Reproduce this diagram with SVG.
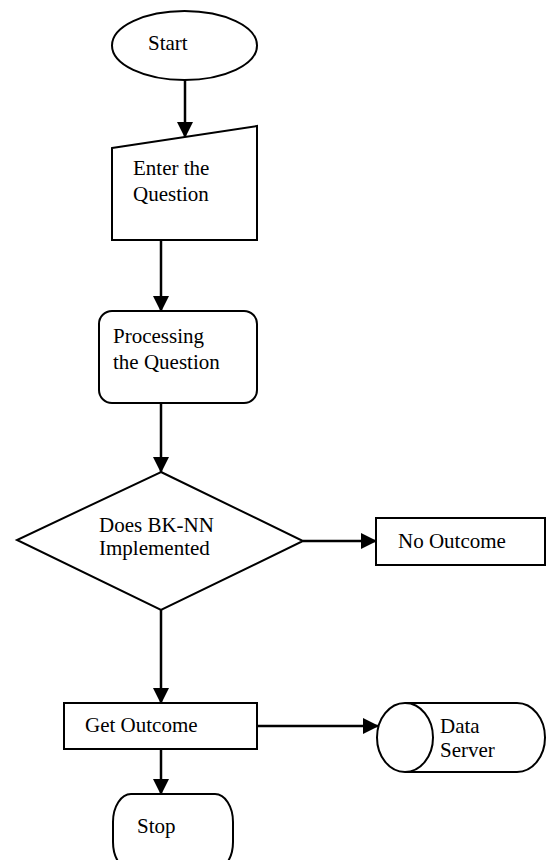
<svg xmlns="http://www.w3.org/2000/svg" width="547" height="860" viewBox="0 0 547 860">
<defs>
<style>
.s{fill:#fff;stroke:#000;stroke-width:2}
.t{font-family:"Liberation Serif","Times New Roman",serif;font-size:21px;fill:#000}
.c{fill:none;stroke:#000;stroke-width:2.5}
</style>
<marker id="ah" markerWidth="16" markerHeight="16" viewBox="0 0 16 16" refX="15" refY="8" orient="auto" markerUnits="userSpaceOnUse">
<path d="M0,0 L16,8 L0,16 Z" fill="#000"/>
</marker>
</defs>
<rect width="547" height="860" fill="#fff"/>
<g id="connectors">
<line class="c" x1="185" y1="80" x2="185" y2="137" marker-end="url(#ah)"/>
<line class="c" x1="161" y1="240" x2="161" y2="311" marker-end="url(#ah)"/>
<line class="c" x1="161" y1="403" x2="161" y2="472" marker-end="url(#ah)"/>
<line class="c" x1="303" y1="541" x2="376" y2="541" marker-end="url(#ah)"/>
<line class="c" x1="161" y1="610" x2="161" y2="703" marker-end="url(#ah)"/>
<line class="c" x1="257" y1="726" x2="378" y2="726" marker-end="url(#ah)"/>
<line class="c" x1="161" y1="749" x2="161" y2="794" marker-end="url(#ah)"/>
</g>
<g id="start">
<ellipse class="s" cx="184.5" cy="45.5" rx="72.5" ry="34.5"/>
<text class="t" x="148" y="50">Start</text>
</g>
<g id="enter">
<path class="s" d="M112,148 L257,126 L257,240 L112,240 Z"/>
<text class="t" x="133" y="175">Enter the</text>
<text class="t" x="133" y="201">Question</text>
</g>
<g id="processing">
<rect class="s" x="99" y="311" width="158" height="92" rx="13" ry="13"/>
<text class="t" x="113" y="343">Processing</text>
<text class="t" x="113" y="369">the Question</text>
</g>
<g id="decision">
<path class="s" d="M161,472 L303,541 L161,610 L17,540 Z"/>
<text class="t" x="99" y="532">Does BK-NN</text>
<text class="t" x="99" y="555">Implemented</text>
</g>
<g id="no-outcome">
<rect class="s" x="376" y="518" width="169" height="47"/>
<text class="t" x="398" y="548">No Outcome</text>
</g>
<g id="get-outcome">
<rect class="s" x="64" y="703" width="193" height="46"/>
<text class="t" x="85" y="732">Get Outcome</text>
</g>
<g id="data-server">
<path class="s" d="M405,703 L517,703 A28,34.5 0 0 1 517,772 L405,772"/>
<ellipse class="s" cx="405" cy="737.5" rx="28" ry="34.5"/>
<text class="t" x="440" y="733">Data</text>
<text class="t" x="440" y="757">Server</text>
</g>
<g id="stop">
<rect class="s" x="113" y="794" width="120" height="76" rx="18" ry="28"/>
<text class="t" x="137" y="833">Stop</text>
</g>
</svg>
